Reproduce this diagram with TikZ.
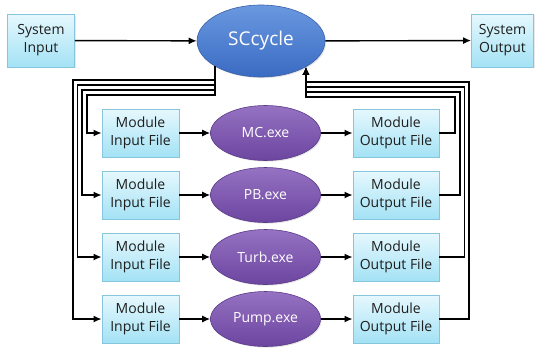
\documentclass[tikz,border=0pt]{standalone}
\usepackage{fontspec}
\setmainfont{Open Sans}
\usetikzlibrary{arrows.meta,shapes.geometric,shadows}

\definecolor{boxtop}{HTML}{E6F8FD}
\definecolor{boxbot}{HTML}{A3E2F5}
\definecolor{boxline}{HTML}{86C5DB}
\definecolor{sctop}{HTML}{6A98E0}
\definecolor{scbot}{HTML}{3A6BC2}
\definecolor{scline}{HTML}{3961A6}
\definecolor{extop}{HTML}{9572C2}
\definecolor{exbot}{HTML}{6C45A0}
\definecolor{exline}{HTML}{5A3A86}
\definecolor{txt}{HTML}{1E1E1E}

\tikzset{
  filebox/.style={draw=boxline, line width=0.8pt, top color=boxtop, bottom color=boxbot,
    minimum height=48pt, inner sep=0pt, align=center, font=\fontsize{14}{18}\selectfont,
    text=txt, drop shadow={opacity=0.18, shadow xshift=1.2pt, shadow yshift=-1.2pt}},
  inbox/.style={filebox, minimum width=77pt},
  outbox/.style={filebox, minimum width=86pt},
  sysbox/.style={filebox, minimum height=53pt},
  hub/.style={ellipse, draw=scline, line width=0.6pt, top color=sctop, bottom color=scbot,
    minimum width=128pt, minimum height=72pt, inner sep=0pt, text=white,
    font=\fontsize{19}{22}\selectfont,
    drop shadow={opacity=0.2, shadow xshift=1.2pt, shadow yshift=-1.2pt}},
  prog/.style={ellipse, draw=exline, line width=0.6pt, top color=extop, bottom color=exbot,
    minimum width=110pt, minimum height=55pt, inner sep=0pt, text=white,
    font=\fontsize{14}{16}\selectfont,
    drop shadow={opacity=0.2, shadow xshift=1.2pt, shadow yshift=-1.2pt}},
  flow/.style={line width=1.4pt, -{Latex[length=8pt,width=7pt]}},
  wire/.style={line width=1.4pt},
}

\begin{document}
\begin{tikzpicture}[x=1pt, y=-1pt]
  \useasboundingbox (0,0) rectangle (535,349);

  % top row: system input, cycle driver, system output
  \node[sysbox, minimum width=67pt] (sysin) at (41,40.5) {System\\Input};
  \node[hub] (sc) at (261,41) {SCcycle};
  \node[sysbox, minimum width=62pt] (sysout) at (502.5,40.5) {System\\Output};

  \draw[flow] (sysin) -- (sc);
  \draw[flow] (sc) -- (sysout);

  % one row per module: input file -> executable -> output file
  \foreach \i/\yy/\prg in {1/133/MC.exe, 2/195/PB.exe, 3/257/Turb.exe, 4/319/Pump.exe} {
    \node[inbox] (in\i) at (140.5,\yy) {Module\\Input File};
    \node[prog] (ex\i) at (265.5,\yy) {\prg};
    \node[outbox] (out\i) at (396,\yy) {Module\\Output File};
    \draw[flow] (in\i) -- (ex\i);
    \draw[flow] (ex\i) -- (out\i);
  }

  % feed lines from SCcycle down to every module input file
  \foreach \i/\lx/\ly in {1/87/95, 2/82/90, 3/77.5/85, 4/73/80} {
    \draw[wire, -{Latex[length=8pt,width=7pt]}] (sc.209.6) |- (\lx,\ly) |- (in\i.west);
  }

  % return lines from every module output file back into SCcycle
  \foreach \i/\rx/\ry in {1/455/97, 2/460/92, 3/464.5/87, 4/469/82} {
    \draw[wire, -{Latex[length=8pt,width=7pt]}] (out\i.east) -| (\rx,\ry) -| (sc.330.4);
  }
\end{tikzpicture}
\end{document}
